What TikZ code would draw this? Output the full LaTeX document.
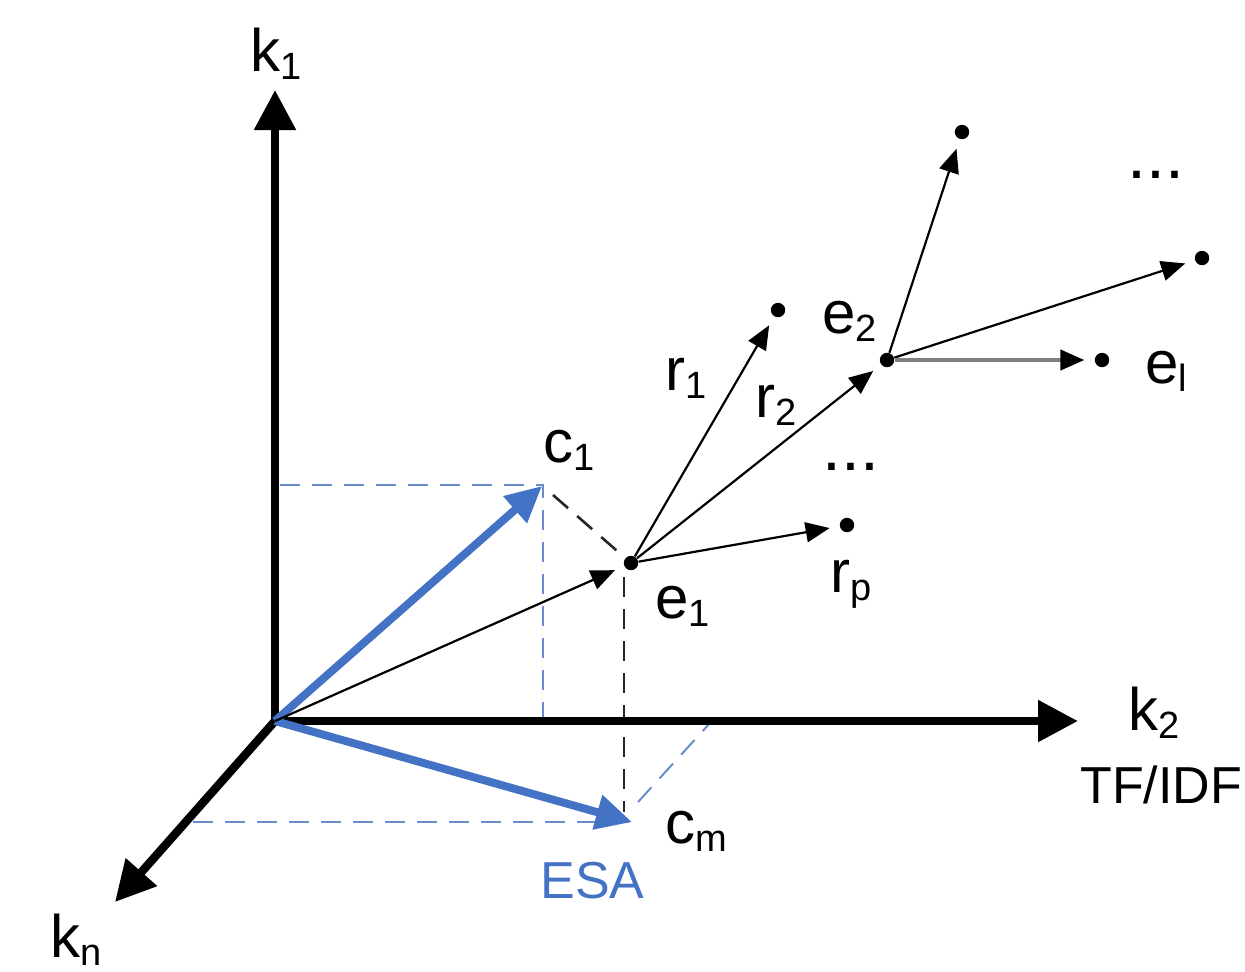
\documentclass[tikz,border=0pt]{standalone}
\usepackage{fontspec}
\setmainfont{Liberation Sans}
\usetikzlibrary{arrows.meta}
\definecolor{esablue}{HTML}{4472C4}
\definecolor{projblue}{HTML}{6A8CCB}
\newcommand{\sbs}[1]{\raisebox{-4pt}{\fontsize{19}{19}\selectfont #1}}
\begin{document}
\begin{tikzpicture}[x=0.5pt,y=-0.5pt,
  font=\fontsize{30}{36}\selectfont,
  axis/.style={line width=4.2pt, line join=miter},
  axboth/.style={axis, {Triangle[length=20pt,width=20pt]}-{Triangle[length=20pt,width=20pt]}},
  axone/.style={axis, -{Triangle[length=20pt,width=20pt]}},
  esa/.style={esablue, line width=4pt, -{Triangle[length=18pt,width=17pt]}},
  rel/.style={line width=1.1pt, -{Triangle[length=12pt,width=10pt]}, shorten >=5pt},
  relgray/.style={gray, line width=2pt, -{Triangle[length=12pt,width=10pt,color=black]}, shorten >=5pt},
  dot/.style={circle, fill, inner sep=0pt, minimum size=7.2pt},
  projb/.style={projblue, line width=1pt, dash pattern=on 10pt off 6pt},
  projk/.style={black!85, line width=1.3pt, dash pattern=on 10pt off 6pt},
  lbl/.style={inner sep=0pt, anchor=base west},
  small/.style={font=\fontsize{26}{30}\selectfont}]
\useasboundingbox (0,0) rectangle (1245,971);
% coordinates
\coordinate (O) at (275,721);
\coordinate (k1tip) at (275,90);
\coordinate (k2tip) at (1078,721);
\coordinate (kntip) at (115,902);
\coordinate (c1tip) at (542,486);
\coordinate (cmtip) at (632,822);
\coordinate (k1p) at (280,485);
\coordinate (c1foot) at (543,718);
\coordinate (knp) at (193,822);
\coordinate (cmd) at (638,802);
\coordinate (k2p) at (710,723);
\coordinate (e1top) at (624,577);
\coordinate (e1foot) at (624,812);
\coordinate (c1d) at (553,495);
% dots
\node[dot] (e1) at (631,563) {};
\node[dot] (r1) at (778,310) {};
\node[dot] (e2) at (887,360) {};
\node[dot] (rp) at (847,525) {};
\node[dot] (t1) at (962,132) {};
\node[dot] (t2) at (1202,258) {};
\node[dot] (el) at (1102,360) {};
% projections
\draw[projb] (k1p) -- (543,485) -- (c1foot);
\draw[projb] (knp) -- (cmtip);
\draw[projb] (cmd) -- (k2p);
\draw[projk] (c1d) -- (e1);
\draw[projk] (e1top) -- (e1foot);
% axes
\draw[axboth] (k1tip) -- (O) -- (k2tip);
\draw[axone] (O) -- (kntip);
% ESA vectors
\draw[esa] (O) -- (c1tip);
\draw[esa] (O) -- (cmtip);
% relation arrows
\draw[rel] (O) -- (e1);
\draw[rel] (e1) -- (r1);
\draw[rel] (e1) -- (e2);
\draw[rel] (e1) -- (rp);
\draw[rel] (e2) -- (t1);
\draw[rel] (e2) -- (t2);
\draw[relgray] (e2) -- (el);
% labels
\node[lbl] (lk1) at (250,71) {k\sbs{1}};
\node[lbl] (lk2) at (1128,730) {k\sbs{2}};
\node[lbl] (lkn) at (50,957) {k\sbs{n}};
\node[lbl, small] (ltf) at (1080,803) {TF/IDF};
\node[lbl] (lc1) at (543,462) {c\sbs{1}};
\node[lbl] (lcm) at (665,843) {c\sbs{m}};
\node[lbl, small, text=esablue] (lesa) at (540,898) {ESA};
\node[lbl] (le1) at (655,618) {e\sbs{1}};
\node[lbl] (lr1) at (665,390) {r\sbs{1}};
\node[lbl] (lr2) at (755,417) {r\sbs{2}};
\node[lbl] (le2) at (822,333) {e\sbs{2}};
\node[lbl] (lrp) at (830,592) {r\sbs{p}};
\node[lbl] (lel) at (1145,383) {e\sbs{l}};
\node[lbl, font=\fontsize{34}{36}\selectfont] (dd1) at (822,470) {...};
\node[lbl, font=\fontsize{34}{36}\selectfont] (dd2) at (1127,178) {...};
\end{tikzpicture}
\end{document}
